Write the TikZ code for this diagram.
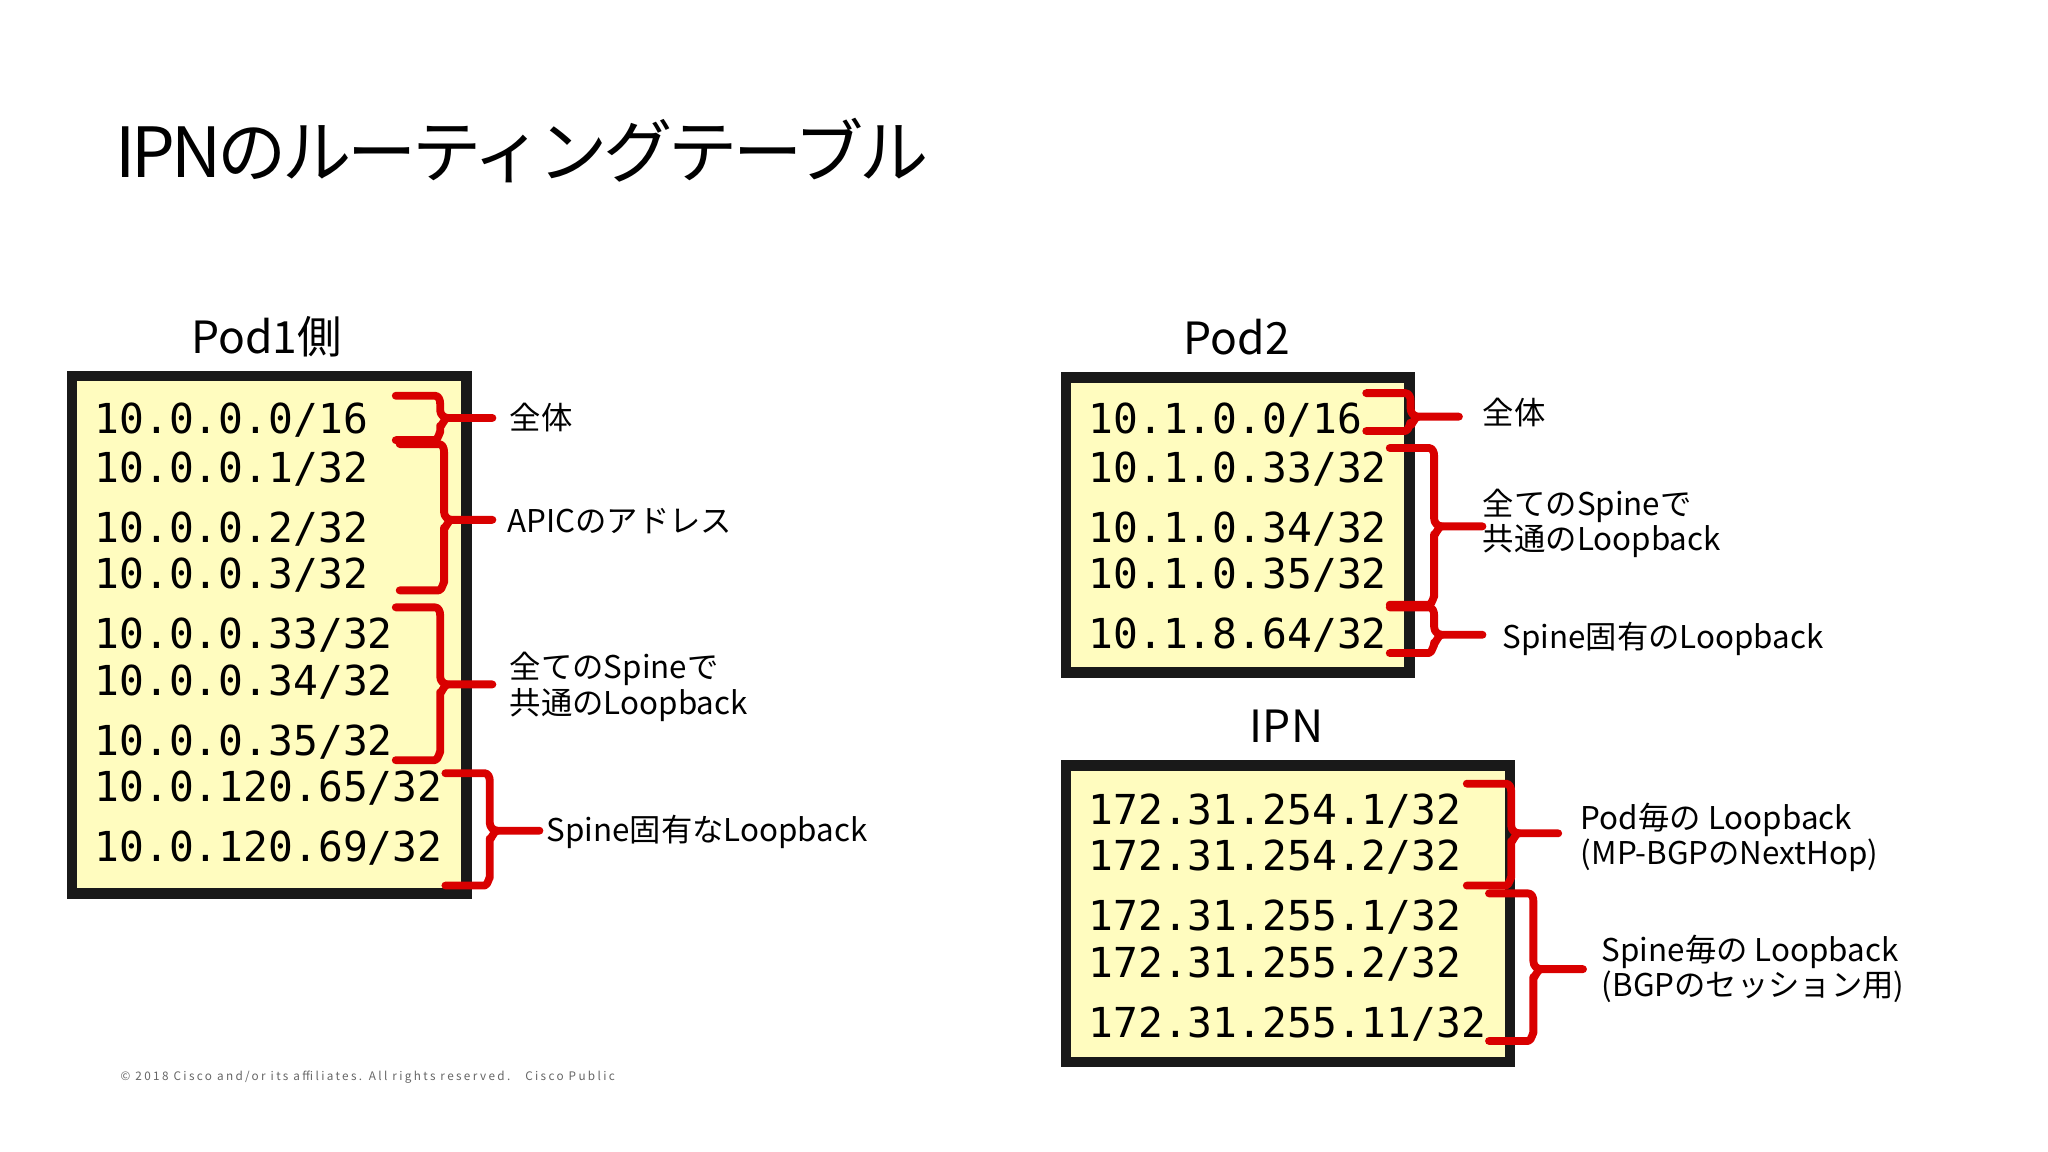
\documentclass[tikz,border=0pt]{standalone}
\usepackage{fontspec}
\setmainfont{Noto Sans CJK JP}[Scale=1]
\newfontfamily\mono{DejaVu Sans Mono}
\newfontfamily\cjk{Noto Sans CJK JP}
\begin{document}
\begin{tikzpicture}[x=0.5pt,y=-0.5pt,
  box/.style={draw=black!90,line width=4pt,fill=yellow!25!white},
  ip/.style={anchor=west,font=\mono\fontsize{15.8}{18}\selectfont,inner sep=0pt},
  lab/.style={anchor=west,font=\cjk\fontsize{12}{13.5}\selectfont,inner sep=0pt,align=left},
  hd/.style={font=\cjk\fontsize{17}{18}\selectfont,inner sep=0pt},
  br/.style={draw=red!85!black,line width=3pt,line join=round,line cap=round}]
\useasboundingbox (0,0) rectangle (1568,882);
\fill[white] (0,0) rectangle (1568,882);
\newcommand\mybrace[5]{% x ytop ybot ymid tipx
  \draw[br] (#1-34,#2) -- (#1-4,#2) to[out=0,in=90] (#1,#2+6) -- (#1,#4-6) to[out=-90,in=180] (#1+6,#4) -- (#5,#4);
  \draw[br] (#1+6,#4) to[out=180,in=-90] (#1,#4+6) -- (#1,#3-6) to[out=90,in=0] (#1-4,#3) -- (#1-34,#3);}
\node[anchor=west,inner sep=0pt,font=\cjk\fontsize{26.5}{30}\selectfont] (title) at (88,115) {\addfontfeature{LetterSpace=-6}IPNのルーティングテーブル};
\node[hd] (h1) at (204,258) {Pod1側};
\node[hd] (h2) at (947,258) {Pod2};
\node[hd] (h3) at (985,556) {IPN};
\draw[box] (55,288) rectangle (357,684);
\draw[box] (816,289) rectangle (1079,515);
\draw[box] (816,586) rectangle (1156,813);
\node[ip] (a1) at (72,322) {10.0.0.0/16};
\node[ip] (a2) at (72,359) {10.0.0.1/32};
\node[ip] (a3) at (72,405) {10.0.0.2/32};
\node[ip] (a4) at (72,440) {10.0.0.3/32};
\node[ip] (a5) at (72,486) {10.0.0.33/32};
\node[ip] (a6) at (72,522) {10.0.0.34/32};
\node[ip] (a7) at (72,568) {10.0.0.35/32};
\node[ip] (a8) at (72,603) {10.0.120.65/32};
\node[ip] (a9) at (72,649) {10.0.120.69/32};
\node[ip] (b1) at (833,322) {10.1.0.0/16};
\node[ip] (b2) at (833,359) {10.1.0.33/32};
\node[ip] (b3) at (833,405) {10.1.0.34/32};
\node[ip] (b4) at (833,440) {10.1.0.35/32};
\node[ip] (b5) at (833,486) {10.1.8.64/32};
\node[ip] (c1) at (833,621) {172.31.254.1/32};
\node[ip] (c2) at (833,656) {172.31.254.2/32};
\node[ip] (c3) at (833,702) {172.31.255.1/32};
\node[ip] (c4) at (833,738) {172.31.255.2/32};
\node[ip] (c5) at (833,784) {172.31.255.11/32};
\mybrace{337}{303}{337}{320}{377}
\mybrace{340}{340}{452}{398}{377}
\mybrace{337}{465}{582}{524}{377}
\mybrace{375}{592}{678}{636}{413}
\mybrace{1080}{301}{330}{319}{1117}
\mybrace{1098}{343}{463}{403}{1135}
\mybrace{1098}{465}{500}{486}{1135}
\mybrace{1157}{600}{678}{638}{1193}
\mybrace{1174}{684}{797}{742}{1212}
\node[lab] (l1) at (390,320) {全体};
\node[lab] (l2) at (388,399) {APICのアドレス};
\node[lab] (l3) at (390,526) {全てのSpineで\\共通のLoopback};
\node[lab] (l4) at (418,637) {Spine固有なLoopback};
\node[lab] (m1) at (1135,316) {全体};
\node[lab] (m2) at (1135,401) {全てのSpineで\\共通のLoopback};
\node[lab] (m3) at (1150,489) {Spine固有のLoopback};
\node[lab] (n1) at (1210,641) {Pod毎の Loopback\\(MP-BGPのNextHop)};
\node[lab] (n2) at (1226,742) {Spine毎の Loopback\\(BGPのセッション用)};
\node[anchor=west,inner sep=0pt,text=black!60,font=\cjk\fontsize{4.5}{5}\selectfont] (ft) at (92,825) {\addfontfeature{LetterSpace=20}© 2018 Cisco and/or its affiliates. All rights reserved.\ \ \ Cisco Public};
\end{tikzpicture}
\end{document}
